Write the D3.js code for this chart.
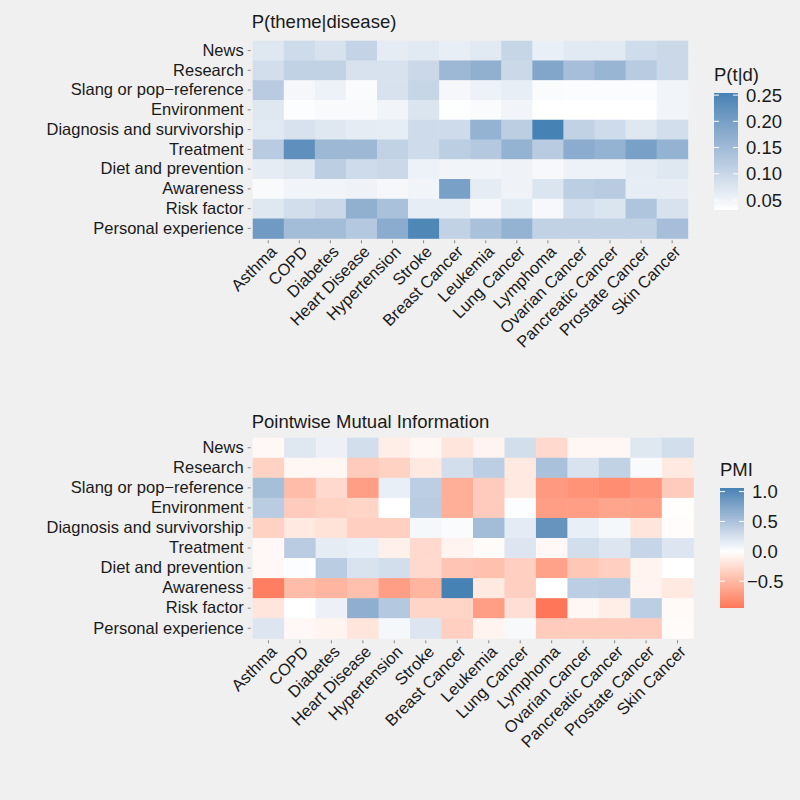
<!DOCTYPE html>
<html>
<head>
<meta charset="utf-8">
<script src="https://cdn.jsdelivr.net/npm/d3@7"></script>
<style>
  body{margin:0;background:#f0f0f0;}
  svg{display:block;font-family:"Liberation Sans",Arial,Helvetica,sans-serif;}
</style>
</head>
<body>
<svg id="canvas" width="800" height="800"></svg>
<script>
const diseases=["Asthma","COPD","Diabetes","Heart Disease","Hypertension","Stroke","Breast Cancer","Leukemia","Lung Cancer","Lymphoma","Ovarian Cancer","Pancreatic Cancer","Prostate Cancer","Skin Cancer"]
const themes=["News","Research","Slang or pop\u2212reference","Environment","Diagnosis and survivorship","Treatment","Diet and prevention","Awareness","Risk factor","Personal experience"]

// P(theme|disease), one row per theme, columns follow diseases
const pNews=[0.071,0.093,0.080,0.105,0.064,0.069,0.060,0.069,0.102,0.058,0.069,0.069,0.091,0.098]
const pResearch=[0.087,0.109,0.109,0.080,0.080,0.098,0.154,0.169,0.098,0.187,0.143,0.160,0.120,0.098]
const pSlang=[0.120,0.044,0.053,0.038,0.080,0.102,0.044,0.053,0.060,0.038,0.036,0.036,0.036,0.049]
const pEnvironment=[0.071,0.035,0.040,0.040,0.049,0.076,0.033,0.038,0.049,0.031,0.031,0.031,0.031,0.049]
const pDiagnosis=[0.069,0.080,0.071,0.064,0.062,0.093,0.093,0.165,0.116,0.254,0.109,0.093,0.071,0.087]
const pTreatment=[0.120,0.228,0.154,0.154,0.109,0.093,0.116,0.125,0.165,0.120,0.176,0.165,0.198,0.165]
const pDiet=[0.064,0.071,0.116,0.093,0.098,0.053,0.049,0.049,0.051,0.042,0.053,0.053,0.064,0.071]
const pAwareness=[0.040,0.049,0.049,0.051,0.044,0.049,0.198,0.064,0.051,0.076,0.116,0.120,0.062,0.062]
const pRisk=[0.071,0.087,0.098,0.169,0.138,0.062,0.062,0.044,0.067,0.042,0.085,0.076,0.131,0.080]
const pPersonal=[0.209,0.147,0.147,0.125,0.176,0.245,0.109,0.138,0.165,0.109,0.109,0.109,0.109,0.143]

// pointwise mutual information, same layout
const mNews=[-0.05,0.19,0.11,0.27,-0.13,-0.06,-0.19,-0.08,0.27,-0.27,-0.06,-0.06,0.19,0.27]
const mResearch=[-0.32,-0.06,-0.06,-0.37,-0.32,-0.16,0.27,0.40,-0.16,0.51,0.23,0.37,0.04,-0.16]
const mSlang=[0.53,-0.48,-0.27,-0.69,0.13,0.40,-0.58,-0.37,-0.16,-0.72,-0.76,-0.80,-0.74,-0.37]
const mEnvironment=[0.42,-0.37,-0.32,-0.30,0.00,0.42,-0.58,-0.37,0.02,-0.69,-0.69,-0.64,-0.66,-0.01]
const mDiagnosis=[-0.32,-0.16,-0.21,-0.34,-0.34,0.06,0.03,0.55,0.16,0.90,0.13,0.06,-0.19,-0.02]
const mTreatment=[-0.05,0.42,0.15,0.13,-0.11,-0.27,-0.08,-0.03,0.21,-0.05,0.27,0.21,0.34,0.21]
const mDiet=[-0.05,0.02,0.42,0.23,0.27,-0.27,-0.42,-0.45,-0.34,-0.66,-0.40,-0.34,-0.08,0.00]
const mAwareness=[-0.90,-0.48,-0.53,-0.45,-0.69,-0.53,1.06,-0.16,-0.34,0.00,0.40,0.42,-0.08,-0.16]
const mRisk=[-0.19,0.00,0.11,0.66,0.45,-0.30,-0.30,-0.69,-0.23,-0.95,-0.06,-0.13,0.40,-0.04]
const mPersonal=[0.21,-0.05,-0.08,-0.19,0.06,0.21,-0.34,-0.08,0.05,-0.37,-0.37,-0.37,-0.37,-0.03]

const pTicks=[0.05,0.10,0.15,0.20,0.25]
const pmiTicks=[-0.5,0,0.5,1.0]

const pRows=[pNews,pResearch,pSlang,pEnvironment,pDiagnosis,pTreatment,pDiet,pAwareness,pRisk,pPersonal]
const mRows=[mNews,mResearch,mSlang,mEnvironment,mDiagnosis,mTreatment,mDiet,mAwareness,mRisk,mPersonal]

const toCells=(rows)=>{
    let out=[]
    rows.forEach((row,i)=>{
        row.forEach((v,j)=>{
            out.push({theme:themes[i],disease:diseases[j],value:v})
        })
    })
    return out
}

const canvas=d3.select("#canvas")
const textColor="#1a1a1a"
const axisFont=16.5
const bigFont=18.5

let drawPanel=(cfg)=>{
    const g=canvas.append("g")
    const x=d3.scaleBand().domain(diseases).range([cfg.x0,cfg.x1])
    const y=d3.scaleBand().domain(themes).range([cfg.y0,cfg.y1])

    g.append("text")
        .attr("x",cfg.x0-1)
        .attr("y",cfg.titleY)
        .attr("font-size",bigFont)
        .attr("fill",textColor)
        .text(cfg.title)

    g.selectAll("rect.cell")
        .data(cfg.cells)
        .enter()
        .append("rect")
        .attr("class","cell")
        .attr("x",(d)=>x(d.disease))
        .attr("y",(d)=>y(d.theme))
        .attr("width",x.bandwidth()+0.5)
        .attr("height",y.bandwidth()+0.5)
        .attr("fill",(d)=>cfg.color(d.value))

    // y axis
    const yAxis=g.append("g")
        .attr("transform",`translate(${cfg.x0-2},0)`)
        .call(d3.axisLeft(y).tickSize(3).tickPadding(4))
    yAxis.select(".domain").remove()
    yAxis.selectAll("line").attr("stroke","#888")
    yAxis.selectAll("text")
        .attr("font-size",axisFont)
        .attr("font-family","Liberation Sans, Arial, sans-serif")
        .attr("fill",textColor)

    // x axis
    const xAxis=g.append("g")
        .attr("transform",`translate(0,${cfg.y1+2})`)
        .call(d3.axisBottom(x).tickSize(3).tickFormat(""))
    xAxis.select(".domain").remove()
    xAxis.selectAll("line").attr("stroke","#888")
    g.selectAll("text.xlab")
        .data(diseases)
        .enter()
        .append("text")
        .attr("class","xlab")
        .attr("transform",(d)=>`translate(${x(d)+x.bandwidth()/2+1},${cfg.y1+6}) rotate(-45)`)
        .attr("text-anchor","end")
        .attr("dy","0.72em")
        .attr("font-size",axisFont)
        .attr("fill",textColor)
        .text((d)=>d)

    // legend colour bar
    const ls=d3.scaleLinear().domain(cfg.extent).range([cfg.lb,cfg.lt])
    const gradId="grad"+cfg.id
    const grad=canvas.append("defs").append("linearGradient")
        .attr("id",gradId)
        .attr("x1","0").attr("y1","1").attr("x2","0").attr("y2","0")
    d3.range(0,41).forEach((k)=>{
        const v=cfg.extent[0]+(cfg.extent[1]-cfg.extent[0])*k/40
        grad.append("stop").attr("offset",(k/40*100)+"%").attr("stop-color",cfg.color(v))
    })
    g.append("text")
        .attr("x",cfg.lx)
        .attr("y",cfg.lt-12)
        .attr("font-size",bigFont)
        .attr("fill",textColor)
        .text(cfg.legendTitle)
    g.append("rect")
        .attr("x",cfg.lx)
        .attr("y",cfg.lt)
        .attr("width",24)
        .attr("height",cfg.lb-cfg.lt)
        .attr("fill",`url(#${gradId})`)
    const tk=g.selectAll("g.tk")
        .data(cfg.ticks)
        .enter()
        .append("g")
        .attr("class","tk")
        .attr("transform",(d)=>`translate(0,${ls(d)})`)
    tk.append("line").attr("x1",cfg.lx).attr("x2",cfg.lx+5).attr("stroke","#fff")
    tk.append("line").attr("x1",cfg.lx+19).attr("x2",cfg.lx+24).attr("stroke","#fff")
    tk.append("text")
        .attr("x",(d)=>cfg.lx+(d<0?27:32))
        .attr("dy","0.36em")
        .attr("font-size",bigFont)
        .attr("fill",textColor)
        .text((d)=>cfg.fmt(d))
}

const pCells=toCells(pRows)
const pExtent=d3.extent(pCells,(d)=>d.value)
const pInterp=d3.interpolateLab("#ffffff","steelblue")
const pColor=(v)=>pInterp((v-pExtent[0])/(pExtent[1]-pExtent[0]))

drawPanel({
    id:"p",title:"P(theme|disease)",cells:pCells,color:pColor,
    x0:252.7,x1:687.7,y0:40.7,y1:238.3,titleY:28,
    extent:[pExtent[0],pExtent[1]],lx:714,lt:93,lb:210,
    legendTitle:"P(t|d)",ticks:pTicks,fmt:d3.format(".2f")
})

const mCells=toCells(mRows)
const mExtent=d3.extent(mCells,(d)=>d.value)
const mMax=d3.max(mExtent,(d)=>Math.abs(d))
const negInterp=d3.interpolateLab("#ffffff","tomato")
const posInterp=d3.interpolateLab("#ffffff","steelblue")
const mColor=(v)=>v<0?negInterp(-v/mMax):posInterp(v/mMax)

drawPanel({
    id:"m",title:"Pointwise Mutual Information",cells:mCells,color:mColor,
    x0:252.7,x1:693.3,y0:437.7,y1:638.3,titleY:427.5,
    extent:[mExtent[0],mExtent[1]],lx:720,lt:488,lb:608,
    legendTitle:"PMI",ticks:pmiTicks,fmt:(d)=>d3.format(".1f")(d).replace("-","\u2212")
})
</script>
</body>
</html>
